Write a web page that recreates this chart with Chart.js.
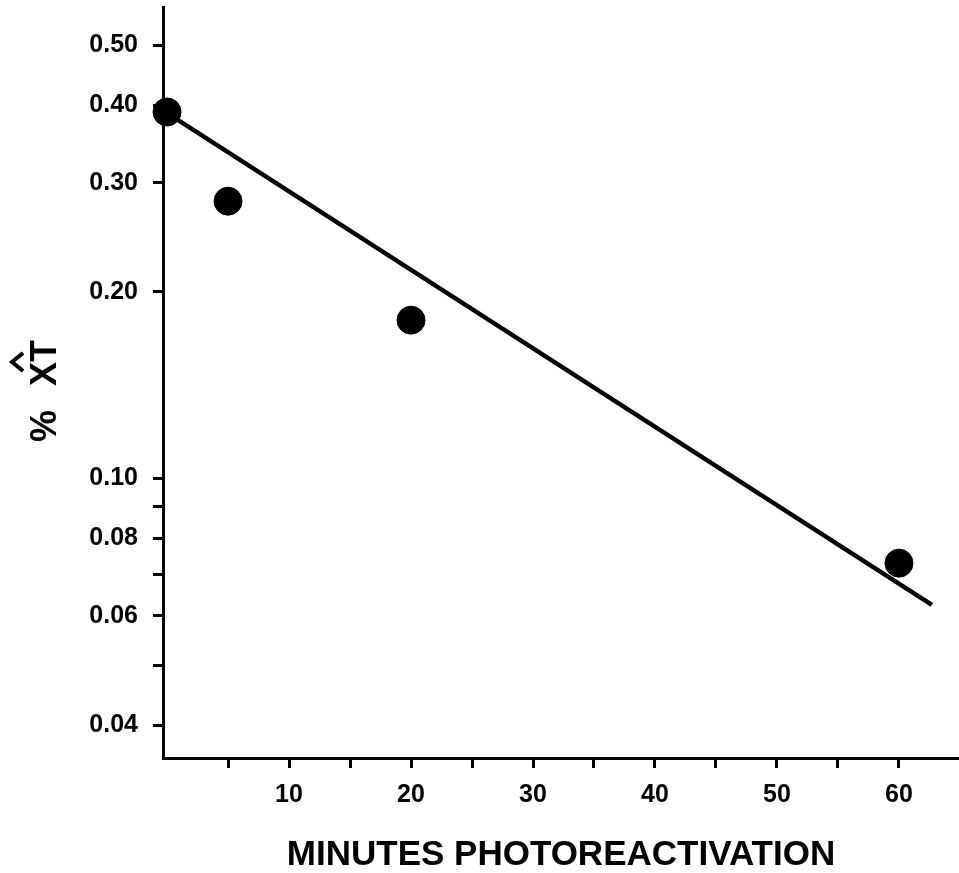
<!DOCTYPE html>
<html>
<head>
<meta charset="utf-8">
<script src="https://cdn.jsdelivr.net/npm/chart.js@4"></script>
<style>
  html, body { margin: 0; padding: 0; background: #fff; }
  #wrap { width: 959px; height: 873px; }
</style>
</head>
<body>
<div id="wrap"><canvas id="chart"></canvas></div>
<script>
// Donnees
const minutes = [0, 5, 20, 60];
const percentXT = [0.39, 0.28, 0.18, 0.073];

// droite de regression (deux extremites)
const fitMinutes = [-0.3, 62.7];
const fitValues = [0.392, 0.0625];

const yTickValues = [0.04, 0.05, 0.06, 0.07, 0.08, 0.09, 0.1, 0.2, 0.3, 0.4, 0.5];
const yTickLabels = { 0.04: '0.04', 0.06: '0.06', 0.08: '0.08', 0.1: '0.10', 0.2: '0.20', 0.3: '0.30', 0.4: '0.40', 0.5: '0.50' };
const xTickValues = [5, 10, 15, 20, 25, 30, 35, 40, 45, 50, 55, 60];
const xTickLabels = [10, 20, 30, 40, 50, 60];

const FONT = "'Liberation Sans', Arial, Helvetica, sans-serif";

// titre de l'axe y : "% XT" avec chapeau
const yTitlePlugin = {
  id: 'yTitle',
  afterDraw(chart) {
    const ctx = chart.ctx;
    ctx.save();
    ctx.translate(45, 0);
    ctx.rotate(-Math.PI / 2);
    ctx.fillStyle = '#000';
    ctx.font = 'bold 36px ' + FONT;
    ctx.textAlign = 'center';
    ctx.textBaseline = 'middle';
    ctx.fillText('%', -426, 1);
    ctx.fillText('XT', -363, 1);
    // chapeau
    ctx.strokeStyle = '#000';
    ctx.lineWidth = 4;
    ctx.lineJoin = 'miter';
    ctx.beginPath();
    ctx.moveTo(-371, -22);
    ctx.lineTo(-362, -33);
    ctx.lineTo(-353, -22);
    ctx.stroke();
    ctx.restore();
  }
};

const chart = new Chart(document.getElementById('chart'), {
  data: {
    datasets: [
      {
        type: 'line',
        data: fitMinutes.map((m, i) => ({ x: m, y: fitValues[i] })),
        borderColor: '#000',
        borderWidth: 4.5,
        pointRadius: 0,
        fill: false
      },
      {
        type: 'scatter',
        data: minutes.map((m, i) => ({ x: m, y: percentXT[i] })),
        backgroundColor: '#000',
        borderColor: '#000',
        pointRadius: 14,
        clip: false
      }
    ]
  },
  options: {
    responsive: true,
    maintainAspectRatio: false,
    animation: false,
    layout: { autoPadding: false, padding: { top: 7, right: 0, bottom: 0, left: 0 } },
    plugins: {
      legend: { display: false },
      tooltip: { enabled: false }
    },
    scales: {
      x: {
        type: 'linear',
        min: -0.33,
        max: 64.92,
        border: { display: true, color: '#000', width: 3 },
        grid: { drawOnChartArea: false, drawTicks: true, tickLength: 10, tickWidth: 3, color: '#000' },
        afterBuildTicks: (scale) => { scale.ticks = xTickValues.map(v => ({ value: v })); },
        afterFit: (scale) => {
          scale.height = 115;
          scale.paddingLeft = 0;
          scale.paddingRight = 0;
        },
        ticks: {
          autoSkip: false,
          maxRotation: 0,
          minRotation: 0,
          padding: 12,
          color: '#000',
          font: { family: FONT, size: 25, weight: 'bold' },
          callback: (value) => xTickLabels.includes(value) ? String(value) : ''
        },
        title: {
          display: true,
          text: 'MINUTES PHOTOREACTIVATION',
          color: '#000',
          font: { family: FONT, size: 35, weight: 'bold', lineHeight: 1 },
          padding: { top: 0, bottom: 0 }
        }
      },
      y: {
        type: 'logarithmic',
        min: 0.0354,
        max: 0.576,
        border: { display: true, color: '#000', width: 3 },
        grid: { drawOnChartArea: false, drawTicks: true, tickLength: 10, tickWidth: 3, color: '#000' },
        afterBuildTicks: (scale) => { scale.ticks = yTickValues.map(v => ({ value: v })); },
        afterFit: (scale) => {
          scale.width = 163;
          scale.paddingTop = 0;
          scale.paddingBottom = 0;
        },
        ticks: {
          autoSkip: false,
          padding: 15,
          color: '#000',
          font: { family: FONT, size: 25, weight: 'bold' },
          callback: (value) => yTickLabels[value] || ''
        }
      }
    }
  },
  plugins: [yTitlePlugin]
});
</script>
</body>
</html>
